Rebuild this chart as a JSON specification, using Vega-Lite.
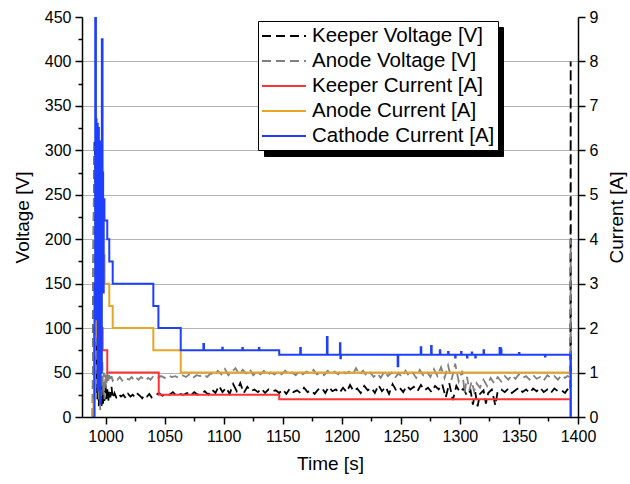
{
  "$schema": "https://vega.github.io/schema/vega-lite/v6.json",
  "width": 496,
  "height": 400,
  "autosize": {"type": "none"},
  "padding": {"left": 82, "top": 17, "right": 52, "bottom": 67},
  "background": "white",
  "config": {
    "view": {"stroke": null},
    "font": "Liberation Sans",
    "axis": {
      "domainColor": "black", "domainWidth": 1.5, "tickColor": "black", "tickWidth": 1.5,
      "labelColor": "black", "labelFont": "Liberation Sans", "labelFontSize": 16,
      "titleColor": "black", "titleFont": "Liberation Sans", "titleFontSize": 19, "titleFontWeight": "normal"
    },
    "legend": {
      "labelFont": "Liberation Sans", "labelFontSize": 20.5, "labelColor": "black", "labelLimit": 0
    }
  },
  "datasets": {
    "volt": [
      {"series":"Keeper Voltage [V]","t":989,"v":0},{"series":"Keeper Voltage [V]","t":990,"v":240},{"series":"Keeper Voltage [V]","t":990.6,"v":310},{"series":"Keeper Voltage [V]","t":991.2,"v":290},{"series":"Keeper Voltage [V]","t":991.8,"v":120},{"series":"Keeper Voltage [V]","t":992.4,"v":45},{"series":"Keeper Voltage [V]","t":993,"v":20},{"series":"Keeper Voltage [V]","t":993.6,"v":55},{"series":"Keeper Voltage [V]","t":994.2,"v":12},{"series":"Keeper Voltage [V]","t":994.8,"v":48},{"series":"Keeper Voltage [V]","t":995.4,"v":18},{"series":"Keeper Voltage [V]","t":996,"v":42},{"series":"Keeper Voltage [V]","t":996.6,"v":10},{"series":"Keeper Voltage [V]","t":997.2,"v":38},{"series":"Keeper Voltage [V]","t":997.8,"v":15},{"series":"Keeper Voltage [V]","t":998.4,"v":35},{"series":"Keeper Voltage [V]","t":999,"v":18},{"series":"Keeper Voltage [V]","t":999.8,"v":40},{"series":"Keeper Voltage [V]","t":1000.6,"v":20},{"series":"Keeper Voltage [V]","t":1001.4,"v":33},{"series":"Keeper Voltage [V]","t":1002.2,"v":17},{"series":"Keeper Voltage [V]","t":1003,"v":30},{"series":"Keeper Voltage [V]","t":1004,"v":22},{"series":"Keeper Voltage [V]","t":1005,"v":34},{"series":"Keeper Voltage [V]","t":1006,"v":21},{"series":"Keeper Voltage [V]","t":1007.5,"v":27},{"series":"Keeper Voltage [V]","t":1009,"v":22},{"series":"Keeper Voltage [V]","t":1011,"v":26},{"series":"Keeper Voltage [V]","t":1013,"v":23},{"series":"Keeper Voltage [V]","t":1015,"v":25},{"series":"Keeper Voltage [V]","t":1017,"v":21},{"series":"Keeper Voltage [V]","t":1019,"v":26},{"series":"Keeper Voltage [V]","t":1021,"v":23},{"series":"Keeper Voltage [V]","t":1023,"v":25},{"series":"Keeper Voltage [V]","t":1025,"v":22},{"series":"Keeper Voltage [V]","t":1027,"v":26},{"series":"Keeper Voltage [V]","t":1029,"v":24},{"series":"Keeper Voltage [V]","t":1031,"v":21},{"series":"Keeper Voltage [V]","t":1033,"v":25},{"series":"Keeper Voltage [V]","t":1035,"v":23},{"series":"Keeper Voltage [V]","t":1037,"v":26},{"series":"Keeper Voltage [V]","t":1039,"v":22},{"series":"Keeper Voltage [V]","t":1041,"v":24},{"series":"Keeper Voltage [V]","t":1043,"v":25},{"series":"Keeper Voltage [V]","t":1045,"v":27},{"series":"Keeper Voltage [V]","t":1048,"v":24},{"series":"Keeper Voltage [V]","t":1051,"v":26},{"series":"Keeper Voltage [V]","t":1054,"v":25},{"series":"Keeper Voltage [V]","t":1057,"v":28},{"series":"Keeper Voltage [V]","t":1060,"v":24},{"series":"Keeper Voltage [V]","t":1063,"v":26},{"series":"Keeper Voltage [V]","t":1066,"v":25},{"series":"Keeper Voltage [V]","t":1069,"v":27},{"series":"Keeper Voltage [V]","t":1072,"v":24},{"series":"Keeper Voltage [V]","t":1075,"v":28},{"series":"Keeper Voltage [V]","t":1078,"v":25},{"series":"Keeper Voltage [V]","t":1081,"v":26},{"series":"Keeper Voltage [V]","t":1084,"v":29},{"series":"Keeper Voltage [V]","t":1087,"v":25},{"series":"Keeper Voltage [V]","t":1090,"v":31},{"series":"Keeper Voltage [V]","t":1093,"v":27},{"series":"Keeper Voltage [V]","t":1096,"v":35},{"series":"Keeper Voltage [V]","t":1099,"v":28},{"series":"Keeper Voltage [V]","t":1102,"v":33},{"series":"Keeper Voltage [V]","t":1105,"v":26},{"series":"Keeper Voltage [V]","t":1108,"v":37},{"series":"Keeper Voltage [V]","t":1111,"v":29},{"series":"Keeper Voltage [V]","t":1114,"v":38},{"series":"Keeper Voltage [V]","t":1117,"v":27},{"series":"Keeper Voltage [V]","t":1120,"v":34},{"series":"Keeper Voltage [V]","t":1123,"v":29},{"series":"Keeper Voltage [V]","t":1126,"v":31},{"series":"Keeper Voltage [V]","t":1129,"v":28},{"series":"Keeper Voltage [V]","t":1132,"v":32},{"series":"Keeper Voltage [V]","t":1135,"v":27},{"series":"Keeper Voltage [V]","t":1138,"v":31},{"series":"Keeper Voltage [V]","t":1141,"v":29},{"series":"Keeper Voltage [V]","t":1144,"v":30},{"series":"Keeper Voltage [V]","t":1147,"v":27},{"series":"Keeper Voltage [V]","t":1150,"v":31},{"series":"Keeper Voltage [V]","t":1153,"v":26},{"series":"Keeper Voltage [V]","t":1156,"v":32},{"series":"Keeper Voltage [V]","t":1159,"v":28},{"series":"Keeper Voltage [V]","t":1162,"v":30},{"series":"Keeper Voltage [V]","t":1165,"v":27},{"series":"Keeper Voltage [V]","t":1168,"v":33},{"series":"Keeper Voltage [V]","t":1171,"v":28},{"series":"Keeper Voltage [V]","t":1174,"v":30},{"series":"Keeper Voltage [V]","t":1177,"v":26},{"series":"Keeper Voltage [V]","t":1180,"v":31},{"series":"Keeper Voltage [V]","t":1183,"v":33},{"series":"Keeper Voltage [V]","t":1186,"v":27},{"series":"Keeper Voltage [V]","t":1189,"v":34},{"series":"Keeper Voltage [V]","t":1192,"v":29},{"series":"Keeper Voltage [V]","t":1195,"v":31},{"series":"Keeper Voltage [V]","t":1198,"v":27},{"series":"Keeper Voltage [V]","t":1201,"v":33},{"series":"Keeper Voltage [V]","t":1204,"v":28},{"series":"Keeper Voltage [V]","t":1207,"v":36},{"series":"Keeper Voltage [V]","t":1210,"v":29},{"series":"Keeper Voltage [V]","t":1213,"v":32},{"series":"Keeper Voltage [V]","t":1216,"v":27},{"series":"Keeper Voltage [V]","t":1219,"v":35},{"series":"Keeper Voltage [V]","t":1222,"v":30},{"series":"Keeper Voltage [V]","t":1225,"v":33},{"series":"Keeper Voltage [V]","t":1228,"v":27},{"series":"Keeper Voltage [V]","t":1231,"v":36},{"series":"Keeper Voltage [V]","t":1234,"v":29},{"series":"Keeper Voltage [V]","t":1237,"v":34},{"series":"Keeper Voltage [V]","t":1240,"v":26},{"series":"Keeper Voltage [V]","t":1243,"v":37},{"series":"Keeper Voltage [V]","t":1246,"v":30},{"series":"Keeper Voltage [V]","t":1249,"v":33},{"series":"Keeper Voltage [V]","t":1252,"v":28},{"series":"Keeper Voltage [V]","t":1255,"v":35},{"series":"Keeper Voltage [V]","t":1258,"v":31},{"series":"Keeper Voltage [V]","t":1261,"v":34},{"series":"Keeper Voltage [V]","t":1264,"v":29},{"series":"Keeper Voltage [V]","t":1267,"v":36},{"series":"Keeper Voltage [V]","t":1270,"v":30},{"series":"Keeper Voltage [V]","t":1273,"v":33},{"series":"Keeper Voltage [V]","t":1276,"v":28},{"series":"Keeper Voltage [V]","t":1279,"v":35},{"series":"Keeper Voltage [V]","t":1282,"v":31},{"series":"Keeper Voltage [V]","t":1285,"v":37},{"series":"Keeper Voltage [V]","t":1288,"v":22},{"series":"Keeper Voltage [V]","t":1291,"v":38},{"series":"Keeper Voltage [V]","t":1294,"v":19},{"series":"Keeper Voltage [V]","t":1297,"v":35},{"series":"Keeper Voltage [V]","t":1300,"v":28},{"series":"Keeper Voltage [V]","t":1303,"v":32},{"series":"Keeper Voltage [V]","t":1306,"v":24},{"series":"Keeper Voltage [V]","t":1309,"v":30},{"series":"Keeper Voltage [V]","t":1311,"v":14},{"series":"Keeper Voltage [V]","t":1313,"v":28},{"series":"Keeper Voltage [V]","t":1315,"v":12},{"series":"Keeper Voltage [V]","t":1317,"v":26},{"series":"Keeper Voltage [V]","t":1320,"v":30},{"series":"Keeper Voltage [V]","t":1322,"v":15},{"series":"Keeper Voltage [V]","t":1324,"v":27},{"series":"Keeper Voltage [V]","t":1327,"v":31},{"series":"Keeper Voltage [V]","t":1330,"v":13},{"series":"Keeper Voltage [V]","t":1332,"v":29},{"series":"Keeper Voltage [V]","t":1335,"v":31},{"series":"Keeper Voltage [V]","t":1338,"v":28},{"series":"Keeper Voltage [V]","t":1341,"v":32},{"series":"Keeper Voltage [V]","t":1344,"v":27},{"series":"Keeper Voltage [V]","t":1347,"v":30},{"series":"Keeper Voltage [V]","t":1350,"v":33},{"series":"Keeper Voltage [V]","t":1353,"v":28},{"series":"Keeper Voltage [V]","t":1356,"v":31},{"series":"Keeper Voltage [V]","t":1359,"v":27},{"series":"Keeper Voltage [V]","t":1362,"v":32},{"series":"Keeper Voltage [V]","t":1365,"v":29},{"series":"Keeper Voltage [V]","t":1368,"v":33},{"series":"Keeper Voltage [V]","t":1371,"v":28},{"series":"Keeper Voltage [V]","t":1374,"v":31},{"series":"Keeper Voltage [V]","t":1377,"v":27},{"series":"Keeper Voltage [V]","t":1380,"v":32},{"series":"Keeper Voltage [V]","t":1383,"v":29},{"series":"Keeper Voltage [V]","t":1386,"v":30},{"series":"Keeper Voltage [V]","t":1389,"v":27},{"series":"Keeper Voltage [V]","t":1391,"v":31},{"series":"Keeper Voltage [V]","t":1393.5,"v":29},{"series":"Keeper Voltage [V]","t":1393.8,"v":400},{"series":"Keeper Voltage [V]","t":1394,"v":0},
      {"series":"Anode Voltage [V]","t":989,"v":0},{"series":"Anode Voltage [V]","t":989.8,"v":200},{"series":"Anode Voltage [V]","t":990.5,"v":305},{"series":"Anode Voltage [V]","t":991.2,"v":300},{"series":"Anode Voltage [V]","t":991.8,"v":180},{"series":"Anode Voltage [V]","t":992.4,"v":90},{"series":"Anode Voltage [V]","t":993,"v":30},{"series":"Anode Voltage [V]","t":993.6,"v":70},{"series":"Anode Voltage [V]","t":994.2,"v":20},{"series":"Anode Voltage [V]","t":994.8,"v":60},{"series":"Anode Voltage [V]","t":995.4,"v":8},{"series":"Anode Voltage [V]","t":996,"v":55},{"series":"Anode Voltage [V]","t":996.6,"v":25},{"series":"Anode Voltage [V]","t":997.2,"v":65},{"series":"Anode Voltage [V]","t":997.8,"v":30},{"series":"Anode Voltage [V]","t":998.4,"v":50},{"series":"Anode Voltage [V]","t":999,"v":20},{"series":"Anode Voltage [V]","t":999.8,"v":48},{"series":"Anode Voltage [V]","t":1000.6,"v":35},{"series":"Anode Voltage [V]","t":1001.4,"v":52},{"series":"Anode Voltage [V]","t":1002.2,"v":38},{"series":"Anode Voltage [V]","t":1003,"v":47},{"series":"Anode Voltage [V]","t":1004,"v":40},{"series":"Anode Voltage [V]","t":1005,"v":46},{"series":"Anode Voltage [V]","t":1006,"v":41},{"series":"Anode Voltage [V]","t":1008,"v":44},{"series":"Anode Voltage [V]","t":1010,"v":42},{"series":"Anode Voltage [V]","t":1012,"v":45},{"series":"Anode Voltage [V]","t":1014,"v":41},{"series":"Anode Voltage [V]","t":1016,"v":44},{"series":"Anode Voltage [V]","t":1018,"v":43},{"series":"Anode Voltage [V]","t":1020,"v":42},{"series":"Anode Voltage [V]","t":1022,"v":45},{"series":"Anode Voltage [V]","t":1024,"v":41},{"series":"Anode Voltage [V]","t":1026,"v":44},{"series":"Anode Voltage [V]","t":1028,"v":42},{"series":"Anode Voltage [V]","t":1030,"v":45},{"series":"Anode Voltage [V]","t":1032,"v":43},{"series":"Anode Voltage [V]","t":1034,"v":41},{"series":"Anode Voltage [V]","t":1036,"v":44},{"series":"Anode Voltage [V]","t":1038,"v":42},{"series":"Anode Voltage [V]","t":1040,"v":45},{"series":"Anode Voltage [V]","t":1042,"v":43},{"series":"Anode Voltage [V]","t":1044,"v":44},{"series":"Anode Voltage [V]","t":1047,"v":46},{"series":"Anode Voltage [V]","t":1050,"v":44},{"series":"Anode Voltage [V]","t":1053,"v":47},{"series":"Anode Voltage [V]","t":1056,"v":45},{"series":"Anode Voltage [V]","t":1059,"v":46},{"series":"Anode Voltage [V]","t":1062,"v":44},{"series":"Anode Voltage [V]","t":1065,"v":47},{"series":"Anode Voltage [V]","t":1068,"v":45},{"series":"Anode Voltage [V]","t":1071,"v":48},{"series":"Anode Voltage [V]","t":1074,"v":44},{"series":"Anode Voltage [V]","t":1077,"v":47},{"series":"Anode Voltage [V]","t":1080,"v":46},{"series":"Anode Voltage [V]","t":1083,"v":48},{"series":"Anode Voltage [V]","t":1086,"v":45},{"series":"Anode Voltage [V]","t":1089,"v":49},{"series":"Anode Voltage [V]","t":1092,"v":47},{"series":"Anode Voltage [V]","t":1095,"v":52},{"series":"Anode Voltage [V]","t":1098,"v":48},{"series":"Anode Voltage [V]","t":1101,"v":54},{"series":"Anode Voltage [V]","t":1104,"v":47},{"series":"Anode Voltage [V]","t":1107,"v":51},{"series":"Anode Voltage [V]","t":1110,"v":55},{"series":"Anode Voltage [V]","t":1113,"v":48},{"series":"Anode Voltage [V]","t":1116,"v":53},{"series":"Anode Voltage [V]","t":1119,"v":49},{"series":"Anode Voltage [V]","t":1122,"v":54},{"series":"Anode Voltage [V]","t":1125,"v":47},{"series":"Anode Voltage [V]","t":1128,"v":51},{"series":"Anode Voltage [V]","t":1131,"v":48},{"series":"Anode Voltage [V]","t":1134,"v":52},{"series":"Anode Voltage [V]","t":1137,"v":47},{"series":"Anode Voltage [V]","t":1140,"v":50},{"series":"Anode Voltage [V]","t":1143,"v":48},{"series":"Anode Voltage [V]","t":1146,"v":51},{"series":"Anode Voltage [V]","t":1149,"v":48},{"series":"Anode Voltage [V]","t":1152,"v":52},{"series":"Anode Voltage [V]","t":1155,"v":49},{"series":"Anode Voltage [V]","t":1158,"v":50},{"series":"Anode Voltage [V]","t":1161,"v":47},{"series":"Anode Voltage [V]","t":1164,"v":52},{"series":"Anode Voltage [V]","t":1167,"v":48},{"series":"Anode Voltage [V]","t":1170,"v":51},{"series":"Anode Voltage [V]","t":1173,"v":49},{"series":"Anode Voltage [V]","t":1176,"v":53},{"series":"Anode Voltage [V]","t":1179,"v":48},{"series":"Anode Voltage [V]","t":1182,"v":50},{"series":"Anode Voltage [V]","t":1185,"v":47},{"series":"Anode Voltage [V]","t":1188,"v":52},{"series":"Anode Voltage [V]","t":1191,"v":49},{"series":"Anode Voltage [V]","t":1194,"v":51},{"series":"Anode Voltage [V]","t":1197,"v":48},{"series":"Anode Voltage [V]","t":1200,"v":53},{"series":"Anode Voltage [V]","t":1203,"v":49},{"series":"Anode Voltage [V]","t":1206,"v":51},{"series":"Anode Voltage [V]","t":1209,"v":47},{"series":"Anode Voltage [V]","t":1212,"v":55},{"series":"Anode Voltage [V]","t":1215,"v":48},{"series":"Anode Voltage [V]","t":1218,"v":52},{"series":"Anode Voltage [V]","t":1221,"v":46},{"series":"Anode Voltage [V]","t":1224,"v":50},{"series":"Anode Voltage [V]","t":1227,"v":45},{"series":"Anode Voltage [V]","t":1230,"v":49},{"series":"Anode Voltage [V]","t":1233,"v":44},{"series":"Anode Voltage [V]","t":1236,"v":51},{"series":"Anode Voltage [V]","t":1239,"v":46},{"series":"Anode Voltage [V]","t":1242,"v":50},{"series":"Anode Voltage [V]","t":1245,"v":44},{"series":"Anode Voltage [V]","t":1248,"v":49},{"series":"Anode Voltage [V]","t":1251,"v":45},{"series":"Anode Voltage [V]","t":1254,"v":52},{"series":"Anode Voltage [V]","t":1257,"v":46},{"series":"Anode Voltage [V]","t":1260,"v":50},{"series":"Anode Voltage [V]","t":1263,"v":44},{"series":"Anode Voltage [V]","t":1266,"v":53},{"series":"Anode Voltage [V]","t":1269,"v":47},{"series":"Anode Voltage [V]","t":1272,"v":51},{"series":"Anode Voltage [V]","t":1275,"v":45},{"series":"Anode Voltage [V]","t":1278,"v":54},{"series":"Anode Voltage [V]","t":1281,"v":46},{"series":"Anode Voltage [V]","t":1284,"v":56},{"series":"Anode Voltage [V]","t":1287,"v":44},{"series":"Anode Voltage [V]","t":1290,"v":58},{"series":"Anode Voltage [V]","t":1293,"v":42},{"series":"Anode Voltage [V]","t":1296,"v":60},{"series":"Anode Voltage [V]","t":1299,"v":40},{"series":"Anode Voltage [V]","t":1302,"v":52},{"series":"Anode Voltage [V]","t":1304,"v":27},{"series":"Anode Voltage [V]","t":1306,"v":45},{"series":"Anode Voltage [V]","t":1308,"v":30},{"series":"Anode Voltage [V]","t":1310,"v":40},{"series":"Anode Voltage [V]","t":1312,"v":29},{"series":"Anode Voltage [V]","t":1314,"v":38},{"series":"Anode Voltage [V]","t":1317,"v":33},{"series":"Anode Voltage [V]","t":1320,"v":42},{"series":"Anode Voltage [V]","t":1323,"v":35},{"series":"Anode Voltage [V]","t":1326,"v":44},{"series":"Anode Voltage [V]","t":1329,"v":38},{"series":"Anode Voltage [V]","t":1332,"v":45},{"series":"Anode Voltage [V]","t":1335,"v":40},{"series":"Anode Voltage [V]","t":1338,"v":46},{"series":"Anode Voltage [V]","t":1341,"v":42},{"series":"Anode Voltage [V]","t":1344,"v":47},{"series":"Anode Voltage [V]","t":1347,"v":43},{"series":"Anode Voltage [V]","t":1350,"v":48},{"series":"Anode Voltage [V]","t":1353,"v":44},{"series":"Anode Voltage [V]","t":1356,"v":46},{"series":"Anode Voltage [V]","t":1359,"v":42},{"series":"Anode Voltage [V]","t":1362,"v":47},{"series":"Anode Voltage [V]","t":1365,"v":43},{"series":"Anode Voltage [V]","t":1368,"v":45},{"series":"Anode Voltage [V]","t":1371,"v":41},{"series":"Anode Voltage [V]","t":1374,"v":47},{"series":"Anode Voltage [V]","t":1377,"v":44},{"series":"Anode Voltage [V]","t":1380,"v":46},{"series":"Anode Voltage [V]","t":1383,"v":42},{"series":"Anode Voltage [V]","t":1386,"v":47},{"series":"Anode Voltage [V]","t":1389,"v":44},{"series":"Anode Voltage [V]","t":1391,"v":46},{"series":"Anode Voltage [V]","t":1393.5,"v":45},{"series":"Anode Voltage [V]","t":1393.8,"v":200},{"series":"Anode Voltage [V]","t":1394,"v":0}
    ],
    "curr": [
      {"series":"Keeper Current [A]","t":989,"i":0},{"series":"Keeper Current [A]","t":990.3,"i":2.0},{"series":"Keeper Current [A]","t":997.5,"i":1.5},{"series":"Keeper Current [A]","t":1001.4,"i":1.0},{"series":"Keeper Current [A]","t":1045,"i":0.5},{"series":"Keeper Current [A]","t":1147,"i":0.4},{"series":"Keeper Current [A]","t":1393.8,"i":0},
      {"series":"Anode Current [A]","t":989,"i":0},{"series":"Anode Current [A]","t":989.7,"i":0.4},{"series":"Anode Current [A]","t":990.6,"i":1.8},{"series":"Anode Current [A]","t":992,"i":3.2},{"series":"Anode Current [A]","t":996,"i":3.4},{"series":"Anode Current [A]","t":998.5,"i":3.64},{"series":"Anode Current [A]","t":999.2,"i":3.0},{"series":"Anode Current [A]","t":1003.1,"i":2.5},{"series":"Anode Current [A]","t":1006,"i":2.0},{"series":"Anode Current [A]","t":1040.4,"i":1.5},{"series":"Anode Current [A]","t":1063.6,"i":1.0},{"series":"Anode Current [A]","t":1393.8,"i":0},
      {"series":"Cathode Current [A]","t":989,"i":0},{"series":"Cathode Current [A]","t":990.6,"i":3.0},{"series":"Cathode Current [A]","t":991.2,"i":9.0},{"series":"Cathode Current [A]","t":991.8,"i":6.7},{"series":"Cathode Current [A]","t":992.3,"i":2.2},{"series":"Cathode Current [A]","t":992.8,"i":6.6},{"series":"Cathode Current [A]","t":993.3,"i":0.6},{"series":"Cathode Current [A]","t":993.8,"i":6.5},{"series":"Cathode Current [A]","t":994.3,"i":1.4},{"series":"Cathode Current [A]","t":994.8,"i":6.2},{"series":"Cathode Current [A]","t":995.3,"i":0.3},{"series":"Cathode Current [A]","t":995.8,"i":5.9},{"series":"Cathode Current [A]","t":996.3,"i":1.0},{"series":"Cathode Current [A]","t":996.8,"i":8.5},{"series":"Cathode Current [A]","t":997.4,"i":5.5},{"series":"Cathode Current [A]","t":997.9,"i":2.8},{"series":"Cathode Current [A]","t":998.4,"i":4.9},{"series":"Cathode Current [A]","t":999,"i":4.42},{"series":"Cathode Current [A]","t":1001.4,"i":4.0},{"series":"Cathode Current [A]","t":1003.1,"i":3.5},{"series":"Cathode Current [A]","t":1006,"i":3.0},{"series":"Cathode Current [A]","t":1040.4,"i":2.5},{"series":"Cathode Current [A]","t":1044.7,"i":2.0},{"series":"Cathode Current [A]","t":1063.6,"i":1.5},{"series":"Cathode Current [A]","t":1082.8,"i":1.64},{"series":"Cathode Current [A]","t":1083.3,"i":1.5},{"series":"Cathode Current [A]","t":1098.8,"i":1.56},{"series":"Cathode Current [A]","t":1099.2,"i":1.5},{"series":"Cathode Current [A]","t":1115.8,"i":1.55},{"series":"Cathode Current [A]","t":1116.2,"i":1.5},{"series":"Cathode Current [A]","t":1129.8,"i":1.55},{"series":"Cathode Current [A]","t":1130.2,"i":1.5},{"series":"Cathode Current [A]","t":1147,"i":1.4},{"series":"Cathode Current [A]","t":1164.8,"i":1.55},{"series":"Cathode Current [A]","t":1165.3,"i":1.4},{"series":"Cathode Current [A]","t":1187.4,"i":1.8},{"series":"Cathode Current [A]","t":1187.9,"i":1.4},{"series":"Cathode Current [A]","t":1198.4,"i":1.66},{"series":"Cathode Current [A]","t":1198.8,"i":1.32},{"series":"Cathode Current [A]","t":1199.2,"i":1.4},{"series":"Cathode Current [A]","t":1247.3,"i":1.14},{"series":"Cathode Current [A]","t":1247.8,"i":1.4},{"series":"Cathode Current [A]","t":1266.8,"i":1.57},{"series":"Cathode Current [A]","t":1267.3,"i":1.4},{"series":"Cathode Current [A]","t":1275.6,"i":1.6},{"series":"Cathode Current [A]","t":1276.1,"i":1.4},{"series":"Cathode Current [A]","t":1283,"i":1.5},{"series":"Cathode Current [A]","t":1283.4,"i":1.4},{"series":"Cathode Current [A]","t":1290,"i":1.46},{"series":"Cathode Current [A]","t":1290.4,"i":1.4},{"series":"Cathode Current [A]","t":1296,"i":1.34},{"series":"Cathode Current [A]","t":1296.4,"i":1.4},{"series":"Cathode Current [A]","t":1301,"i":1.46},{"series":"Cathode Current [A]","t":1301.4,"i":1.4},{"series":"Cathode Current [A]","t":1306,"i":1.34},{"series":"Cathode Current [A]","t":1306.4,"i":1.4},{"series":"Cathode Current [A]","t":1310,"i":1.45},{"series":"Cathode Current [A]","t":1310.4,"i":1.4},{"series":"Cathode Current [A]","t":1313,"i":1.34},{"series":"Cathode Current [A]","t":1313.4,"i":1.4},{"series":"Cathode Current [A]","t":1320,"i":1.5},{"series":"Cathode Current [A]","t":1320.4,"i":1.4},{"series":"Cathode Current [A]","t":1333.6,"i":1.55},{"series":"Cathode Current [A]","t":1334.6,"i":1.52},{"series":"Cathode Current [A]","t":1335.2,"i":1.4},{"series":"Cathode Current [A]","t":1350,"i":1.44},{"series":"Cathode Current [A]","t":1350.4,"i":1.4},{"series":"Cathode Current [A]","t":1372,"i":1.36},{"series":"Cathode Current [A]","t":1372.4,"i":1.4},{"series":"Cathode Current [A]","t":1393.8,"i":0}
    ]
  },
  "encoding": {
    "x": {
      "field": "t", "type": "quantitative",
      "scale": {"domain": [980, 1400], "nice": false, "zero": false},
      "axis": {
        "title": "Time [s]", "values": [1000,1025,1050,1075,1100,1125,1150,1175,1200,1225,1250,1275,1300,1325,1350,1375,1400],
        "labelExpr": "datum.value % 50 === 0 ? datum.label : ''", "format": "d",
        "tickSize": {"condition": {"test": "datum.value % 50 === 0", "value": 7}, "value": 4},
        "grid": false, "labelPadding": 4, "titlePadding": 10, "labelFlush": false
      }
    },
    "color": {
      "field": "series", "type": "nominal",
      "scale": {
        "domain": ["Keeper Voltage [V]", "Anode Voltage [V]", "Keeper Current [A]", "Anode Current [A]", "Cathode Current [A]"],
        "range": ["#000000", "#808080", "#ff3333", "#e6a523", "#1f3fff"]
      },
      "legend": {
        "title": null, "orient": "none", "legendX": 176, "legendY": 4, "zindex": 2,
        "symbolType": "M-2,0H2", "symbolSize": 484, "symbolStrokeWidth": 2, "symbolOffset": 11,
        "strokeColor": "black", "fillColor": "white", "padding": 3, "rowPadding": 2, "labelOffset": 16
      }
    },
    "strokeDash": {
      "field": "series", "type": "nominal",
      "scale": {
        "domain": ["Keeper Voltage [V]", "Anode Voltage [V]", "Keeper Current [A]", "Anode Current [A]", "Cathode Current [A]"],
        "range": [[9, 5], [9, 5], [1, 0], [1, 0], [1, 0]]
      },
      "legend": {
        "title": null, "orient": "none", "legendX": 176, "legendY": 4, "zindex": 2,
        "symbolType": "M-2,0H2", "symbolSize": 484, "symbolStrokeWidth": 2, "symbolOffset": 11,
        "strokeColor": "black", "fillColor": "white", "padding": 3, "rowPadding": 2, "labelOffset": 16
      }
    }
  },
  "layer": [
    {
      "data": {"name": "volt"},
      "mark": {"type": "line", "strokeWidth": 1.8, "clip": true},
      "encoding": {
        "y": {
          "field": "v", "type": "quantitative",
          "scale": {"domain": [0, 450], "nice": false},
          "axis": {
            "title": "Voltage [V]", "orient": "left",
            "values": [0,25,50,75,100,125,150,175,200,225,250,275,300,325,350,375,400,425,450],
            "labelExpr": "datum.value % 50 === 0 ? datum.label : ''",
            "tickSize": {"condition": {"test": "datum.value % 50 === 0", "value": 7}, "value": 4},
            "grid": true, "gridColor": "#b4b4b4", "gridWidth": 1,
            "gridOpacity": {"condition": {"test": "datum.value % 50 === 0 && datum.value > 0 && datum.value < 450", "value": 1}, "value": 0},
            "labelPadding": 4, "titlePadding": 12
          }
        }
      }
    },
    {
      "data": {"name": "curr"},
      "encoding": {
        "y": {
          "field": "i", "type": "quantitative",
          "scale": {"domain": [0, 9], "nice": false},
          "axis": {
            "title": "Current [A]", "orient": "right", "titleAngle": 270, "titleBaseline": "top",
            "values": [0,0.5,1,1.5,2,2.5,3,3.5,4,4.5,5,5.5,6,6.5,7,7.5,8,8.5,9],
            "format": "d",
            "labelExpr": "datum.value % 1 === 0 ? datum.label : ''",
            "tickSize": {"condition": {"test": "datum.value % 1 === 0", "value": 7}, "value": 4},
            "grid": false, "labelPadding": 4, "titlePadding": 10
          }
        }
      },
      "layer": [
        {"transform": [{"filter": "datum.series === 'Keeper Current [A]'"}], "mark": {"type": "line", "interpolate": "step-after", "strokeWidth": 2, "clip": true}},
        {"transform": [{"filter": "datum.series === 'Anode Current [A]'"}], "mark": {"type": "line", "interpolate": "step-after", "strokeWidth": 2, "clip": true}},
        {"transform": [{"filter": "datum.series === 'Cathode Current [A]'"}], "mark": {"type": "line", "interpolate": "step-after", "strokeWidth": 2, "clip": true}},
        {
          "transform": [{"filter": "datum.series === 'Cathode Current [A]'"}],
          "mark": {"type": "point", "opacity": 0, "clip": true},
          "encoding": {
            "fill": {
              "field": "i", "type": "quantitative",
              "scale": {"range": ["#000000", "#000000"]},
              "legend": {
                "type": "gradient", "direction": "horizontal", "title": null,
                "orient": "none", "legendX": 182, "legendY": 10, "zindex": 1,
                "gradientLength": 233, "gradientThickness": 123, "gradientStrokeWidth": 0,
                "values": [], "labelOpacity": 0,
                "strokeColor": "black", "fillColor": "black", "padding": 3
              }
            }
          }
        }
      ]
    }
  ],
  "resolve": {"scale": {"y": "independent"}}
}
